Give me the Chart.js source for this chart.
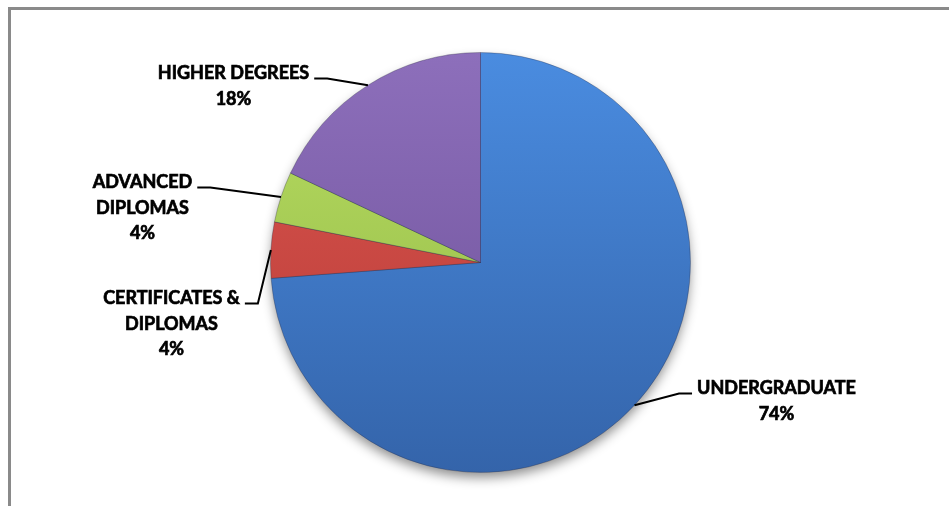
<!DOCTYPE html>
<html><head><meta charset="utf-8">
<script src="https://cdn.jsdelivr.net/npm/chart.js@4"></script>
<style>
html,body{margin:0;padding:0;background:#fff;overflow:hidden;}
#wrap{position:relative;width:949px;height:506px;overflow:hidden;background:#fff;}
#frame{position:absolute;left:8px;top:7px;width:1000px;height:600px;border:3px solid #8a8a8a;box-sizing:border-box;}
canvas{position:absolute;left:0;top:0;}
</style></head><body>
<div id="wrap"><div id="frame"></div><canvas id="c" width="949" height="506"></canvas></div>
<script>
// ---- data ----
const categories = ['UNDERGRADUATE', 'CERTIFICATES & DIPLOMAS', 'ADVANCED DIPLOMAS', 'HIGHER DEGREES'];
const labelLines = [['UNDERGRADUATE'], ['CERTIFICATES &', 'DIPLOMAS'], ['ADVANCED', 'DIPLOMAS'], ['HIGHER DEGREES']];
const values = [73.8, 4.3, 3.9, 18.0];
const colorsTop = ['#4a8ce0', '#dc5650', '#b9de62', '#8d6fbb'];
const colorsBottom = ['#3464aa', '#b53a35', '#8fb545', '#6c4f97'];

// label placement (text-block centre x and first-line y, relative to pie centre)
const labelPlacement = [
  {dx: 296, dy: 126, side: 'right'},
  {dx: -309, dy: 36, side: 'left'},
  {dx: -338, dy: -80, side: 'left'},
  {dx: -247, dy: -189, side: 'left'}
];

const FONT = 'bold 18px Lato, "Liberation Sans", sans-serif';
const LINE_H = 25.5;

const shadowPlugin = {
  id: 'shadow',
  beforeDatasetsDraw(chart) {
    const arc = chart.getDatasetMeta(0).data[0];
    if (!arc) return;
    const ctx = chart.ctx;
    ctx.save();
    ctx.shadowColor = 'rgba(0,0,0,0.45)';
    ctx.shadowBlur = 12;
    ctx.shadowOffsetY = 6;
    ctx.fillStyle = '#3a6cb3';
    ctx.beginPath();
    ctx.arc(arc.x, arc.y, arc.outerRadius - 1, 0, Math.PI * 2);
    ctx.fill();
    ctx.restore();
  }
};

const labelPlugin = {
  id: 'calloutLabels',
  afterDatasetsDraw(chart) {
    const meta = chart.getDatasetMeta(0);
    const ctx = chart.ctx;
    const total = values.reduce((a, b) => a + b, 0);
    ctx.save();
    ctx.font = FONT;
    ctx.fillStyle = '#000';
    ctx.strokeStyle = '#000';
    ctx.textAlign = 'center';
    ctx.textBaseline = 'middle';
    meta.data.forEach((arc, i) => {
      const p = labelPlacement[i];
      const cx = arc.x + p.dx;
      const y1 = arc.y + p.dy;
      const lines = labelLines[i].concat([Math.round(values[i] / total * 100) + '%']);
      ctx.lineWidth = 0.7;
      lines.forEach((t, k) => {
        ctx.fillText(t, cx, y1 + k * LINE_H);
        ctx.strokeText(t, cx, y1 + k * LINE_H);
      });
      // leader line
      const mid = (arc.startAngle + arc.endAngle) / 2;
      const ex = arc.x + Math.cos(mid) * arc.outerRadius;
      const ey = arc.y + Math.sin(mid) * arc.outerRadius;
      const w = ctx.measureText(lines[0]).width;
      const ly = y1 + 5;
      let sx, hx;
      if (p.side === 'left') { sx = cx + w / 2 + 5; hx = sx + 13; }
      else { sx = cx - w / 2 - 5; hx = sx - 13; }
      ctx.beginPath();
      ctx.lineWidth = 2;
      ctx.moveTo(sx, ly);
      ctx.lineTo(hx, ly);
      ctx.lineTo(ex, ey);
      ctx.stroke();
    });
    ctx.restore();
  }
};

function sliceFill(c) {
  const i = c.dataIndex;
  const area = c.chart.chartArea;
  if (!area) return colorsTop[i];
  const g = c.chart.ctx.createLinearGradient(0, area.top, 0, area.bottom);
  g.addColorStop(0, colorsTop[i]);
  g.addColorStop(1, colorsBottom[i]);
  return g;
}

new Chart(document.getElementById('c'), {
  type: 'pie',
  data: {
    labels: categories,
    datasets: [{
      data: values,
      backgroundColor: sliceFill,
      borderColor: 'rgba(40,40,60,0.3)',
      borderWidth: 1
    }]
  },
  options: {
    responsive: false,
    animation: false,
    layout: {padding: {left: 270, right: 258, top: 52, bottom: 33}},
    plugins: {legend: {display: false}, tooltip: {enabled: false}}
  },
  plugins: [shadowPlugin, labelPlugin]
});
</script>
</body></html>
